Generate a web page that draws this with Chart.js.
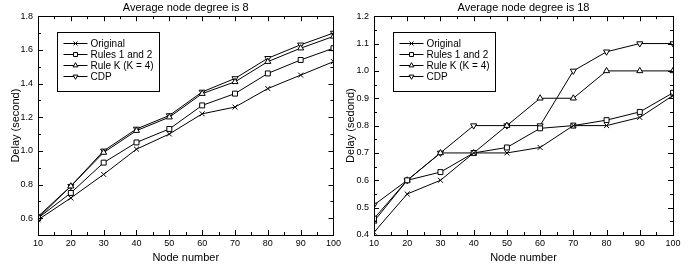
<!DOCTYPE html>
<html>
<head>
<meta charset="utf-8">
<script src="https://cdn.jsdelivr.net/npm/chart.js@4.4.1/dist/chart.umd.min.js"></script>
<style>
  html, body { margin: 0; padding: 0; background: #fff; }
  .wrap { display: flex; width: 688px; height: 267px; }
  .box { position: relative; width: 344px; height: 267px; }
</style>
</head>
<body>
<div class="wrap">
  <div class="box"><canvas id="deg8"></canvas></div>
  <div class="box"><canvas id="deg18"></canvas></div>
</div>
<script>
var nodeNumbers = [10, 20, 30, 40, 50, 60, 70, 80, 90, 100];
var seriesNames = ["Original", "Rules 1 and 2", "Rule K (K = 4)", "CDP"];

// average node degree 8
var deg8Original = [0.59, 0.72, 0.86, 1.01, 1.10, 1.22, 1.26, 1.37, 1.45, 1.53];
var deg8Rules = [0.60, 0.75, 0.93, 1.05, 1.13, 1.27, 1.34, 1.46, 1.54, 1.61];
var deg8RuleK = [0.60, 0.79, 0.99, 1.12, 1.20, 1.34, 1.41, 1.53, 1.61, 1.68];
var deg8Cdp = [0.61, 0.79, 1.00, 1.13, 1.21, 1.35, 1.43, 1.55, 1.63, 1.70];
var deg8Ticks = [0.6, 0.8, 1.0, 1.2, 1.4, 1.6, 1.8];

// average node degree 18
var deg18Original = [0.41, 0.55, 0.60, 0.70, 0.70, 0.72, 0.80, 0.80, 0.83, 0.91];
var deg18Rules = [0.46, 0.60, 0.63, 0.70, 0.72, 0.79, 0.80, 0.82, 0.85, 0.92];
var deg18RuleK = [0.45, 0.60, 0.70, 0.70, 0.80, 0.90, 0.90, 1.00, 1.00, 1.00];
var deg18Cdp = [0.51, 0.60, 0.70, 0.80, 0.80, 0.80, 1.00, 1.07, 1.10, 1.10];
var deg18Ticks = [0.4, 0.5, 0.6, 0.7, 0.8, 0.9, 1.0, 1.1, 1.2];

var FONT = "'Liberation Sans', Arial, sans-serif";
var markers = [
  {style: "crossRot", rotation: 0, radius: 3.5},
  {style: "rect", rotation: 0, radius: 3.5},
  {style: "triangle", rotation: 0, radius: 3.5},
  {style: "triangle", rotation: 180, radius: 3.5}
];

function toPoints(values) {
  var pts = [];
  for (var i = 0; i < values.length; i++) {
    pts.push({x: nodeNumbers[i], y: values[i]});
  }
  return pts;
}

// box around the plot with inward major/minor ticks on all four sides
var framePlugin = {
  id: "frame",
  afterDraw: function (chart, args, opts) {
    var ctx = chart.ctx;
    var a = chart.chartArea;
    var xs = chart.scales.x, ys = chart.scales.y;
    ctx.save();
    ctx.strokeStyle = "#000";
    ctx.lineWidth = 1;
    ctx.strokeRect(Math.round(a.left) + 0.5, Math.round(a.top) + 0.5,
      Math.round(a.right - a.left), Math.round(a.bottom - a.top));
    ctx.beginPath();
    var v, p, len;
    for (v = xs.min; v <= xs.max + 1e-9; v += opts.xMinor) {
      p = Math.round(xs.getPixelForValue(v)) + 0.5;
      len = Math.abs((v - xs.min) % opts.xMajor) < 1e-6 ? 5 : 3;
      ctx.moveTo(p, a.bottom); ctx.lineTo(p, a.bottom - len);
      ctx.moveTo(p, a.top); ctx.lineTo(p, a.top + len);
    }
    for (v = ys.min; v <= ys.max + 1e-9; v += opts.yMinor) {
      p = Math.round(ys.getPixelForValue(v)) + 0.5;
      var isMajor = false;
      for (var k = 0; k < ys.ticks.length; k++) {
        if (Math.abs(ys.ticks[k].value - v) < 1e-6) isMajor = true;
      }
      len = isMajor ? 5 : 3;
      ctx.moveTo(a.left, p); ctx.lineTo(a.left + len, p);
      ctx.moveTo(a.right, p); ctx.lineTo(a.right - len, p);
    }
    ctx.stroke();
    ctx.restore();
  }
};

// legend drawn as a boxed key in the upper left of the plot
var keyPlugin = {
  id: "key",
  afterDraw: function (chart) {
    var ctx = chart.ctx;
    var a = chart.chartArea;
    var bx = Math.round(a.left) + 19.5, by = Math.round(a.top) + 16.5;
    ctx.save();
    ctx.strokeStyle = "#000";
    ctx.lineWidth = 1;
    ctx.fillStyle = "#fff";
    ctx.fillRect(bx, by, 102, 59);
    ctx.strokeRect(bx, by, 102, 59);
    ctx.font = "10px " + FONT;
    ctx.textBaseline = "middle";
    var sets = chart.data.datasets;
    for (var i = 0; i < sets.length; i++) {
      var y = by + 11 + i * 11;
      ctx.beginPath();
      ctx.moveTo(bx + 6, y); ctx.lineTo(bx + 30, y);
      ctx.stroke();
      ctx.fillStyle = "#fff";
      Chart.helpers.drawPoint(ctx, {
        pointStyle: markers[i].style, rotation: markers[i].rotation,
        radius: 2.8, borderWidth: 1
      }, bx + 18, y);
      ctx.fillStyle = "#000";
      ctx.fillText(sets[i].label, bx + 33, y + 0.5);
    }
    ctx.restore();
  }
};

function makeChart(id, title, yTitle, series, yMin, yMax, yTicks, yMinor, yWidth, yTitlePad, padRight) {
  var datasets = [];
  for (var i = 0; i < series.length; i++) {
    datasets.push({
      label: seriesNames[i],
      data: toPoints(series[i]),
      borderColor: "#000",
      borderWidth: 1,
      backgroundColor: "#fff",
      pointStyle: markers[i].style,
      pointRotation: markers[i].rotation,
      pointRadius: markers[i].radius,
      pointBorderWidth: 1,
      pointBackgroundColor: "#fff",
      pointBorderColor: "#000",
      tension: 0,
      fill: false
    });
  }
  return new Chart(document.getElementById(id), {
    type: "line",
    data: {datasets: datasets},
    plugins: [framePlugin, keyPlugin],
    options: {
      responsive: true,
      maintainAspectRatio: false,
      animation: false,
      layout: {padding: {left: 0, right: padRight, top: 0, bottom: 0}},
      plugins: {
        legend: {display: false},
        tooltip: {enabled: false},
        title: {
          display: true,
          text: title,
          fullSize: false,
          color: "#000",
          font: {family: FONT, size: 11, weight: "normal"},
          padding: {top: 1, bottom: 2}
        },
        frame: {xMajor: 10, xMinor: 5, yMinor: yMinor}
      },
      scales: {
        x: {
          type: "linear",
          min: 10,
          max: 100,
          grid: {display: false, drawTicks: false},
          border: {display: false},
          ticks: {stepSize: 10, color: "#000", padding: 3, maxRotation: 0,
            font: {family: FONT, size: 9}},
          title: {display: true, text: "Node number", color: "#000",
            font: {family: FONT, size: 11}, padding: {top: 0, bottom: 2}},
          afterFit: function (s) { s.height = 32; }
        },
        y: {
          min: yMin,
          max: yMax,
          grid: {display: false, drawTicks: false},
          border: {display: false},
          ticks: {color: "#000", padding: 5, font: {family: FONT, size: 9},
            callback: function (v) { return v.toFixed(1); }},
          afterBuildTicks: function (s) {
            s.ticks = yTicks.map(function (v) { return {value: v}; });
          },
          title: {display: true, text: yTitle, color: "#000",
            font: {family: FONT, size: 11}, padding: {top: yTitlePad, bottom: 0}},
          afterFit: function (s) { s.width = yWidth; }
        }
      }
    }
  });
}

makeChart("deg8", "Average node degree is 8", "Delay (second)",
  [deg8Original, deg8Rules, deg8RuleK, deg8Cdp], 0.5, 1.8, deg8Ticks, 0.1, 38, 9, 7);
makeChart("deg18", "Average node degree is 18", "Delay (sedond)",
  [deg18Original, deg18Rules, deg18RuleK, deg18Cdp], 0.4, 1.2, deg18Ticks, 0.05, 30, 0, 15);
</script>
</body>
</html>
